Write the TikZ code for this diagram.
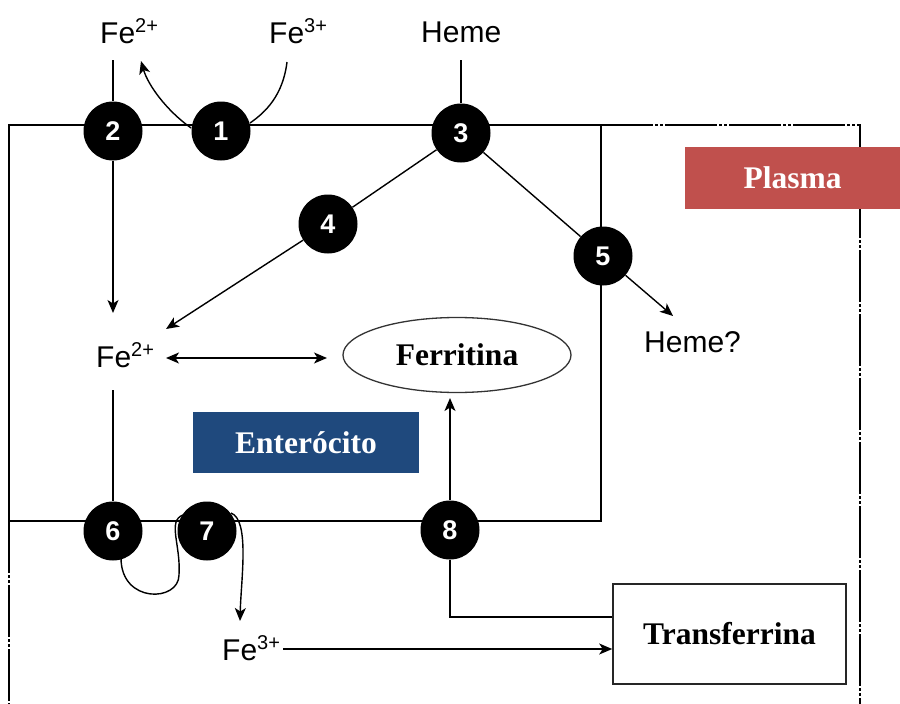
\documentclass[tikz,border=0pt]{standalone}
\usepackage{fontspec}
\setmainfont{Liberation Serif}
\newfontfamily\lab{Liberation Sans}
\usetikzlibrary{arrows.meta,shapes.geometric}
\definecolor{plasmared}{HTML}{C0504D}
\definecolor{enteroblue}{HTML}{1F497D}
\newcommand{\ionlab}[2]{#1\raisebox{11pt}{\fontsize{20}{20}\selectfont #2}}
\begin{document}
\begin{tikzpicture}[x=1pt,y=-1pt,
  memb/.style={line width=1.6pt},
  plasmaline/.style={line width=1.6pt,dash pattern=on 52pt off 2pt on 3pt off 2pt on 3pt off 2pt},
  circ/.style={circle,fill=black,minimum size=59pt,inner sep=0pt,text=white,font=\lab\bfseries\fontsize{27}{27}\selectfont},
  conn/.style={line width=1.4pt},
  arr/.style={line width=1.4pt,-{Stealth[length=13pt,width=11pt,inset=3.5pt]}},
  darr/.style={line width=1.4pt,{Stealth[length=13pt,width=11pt,inset=3.5pt]}-{Stealth[length=13pt,width=11pt,inset=3.5pt]}},
  ionstyle/.style={inner sep=0pt,anchor=base west,font=\lab\fontsize{30}{30}\selectfont},
  boldlab/.style={font=\bfseries\fontsize{31.5}{31.5}\selectfont}
]
\useasboundingbox (0,0) rectangle (900,704);

% membranes
\draw[memb] (9,521) -- (9,125) -- (601,125) -- (601,521) -- cycle;
\draw[plasmaline] (9,521) -- (9,704);
\draw[plasmaline] (601,125) -- (860,125) -- (860,704);

% labels
\node[ionstyle] (fe2top) at (100,43) {\ionlab{Fe}{2+}};
\node[ionstyle] (fe3top) at (269,43) {\ionlab{Fe}{3+}};
\node[ionstyle] (hemetop) at (421,42) {Heme};
\node[ionstyle] (fe2mid) at (96,367) {\ionlab{Fe}{2+}};
\node[ionstyle] (hemeq) at (644,352) {Heme?};
\node[ionstyle] (fe3bot) at (222,660) {\ionlab{Fe}{3+}};

% boxes
\node[boldlab,fill=plasmared,text=white,minimum width=215pt,minimum height=62pt,inner sep=0pt] (plasma) at (792.5,178) {Plasma};
\node[boldlab,fill=enteroblue,text=white,minimum width=226pt,minimum height=61pt,inner sep=0pt] (entero) at (306,442.5) {Enterócito};
\node[boldlab,ellipse,draw=black!80,line width=1.3pt,minimum width=228pt,minimum height=75pt,inner sep=0pt] (ferr) at (457,355) {Ferritina};
\node[boldlab,rectangle,draw=black!85,line width=1.6pt,minimum width=233pt,minimum height=100pt,inner sep=0pt] (trans) at (729.5,634) {Transferrina};

% circles
\node[circ] (c1) at (221,131) {1};
\node[circ] (c2) at (113,131) {2};
\node[circ] (c3) at (461,133) {3};
\node[circ] (c4) at (328,224) {4};
\node[circ] (c5) at (603,256) {5};
\node[circ] (c6) at (113,531) {6};
\node[circ] (c7) at (207,531) {7};
\node[circ] (c8) at (450,530) {8};

% free ends
\coordinate (p2top) at (113,60);
\coordinate (p2bot) at (113,313);
\coordinate (p1tip) at (141,61);
\coordinate (p1start) at (191,128);
\coordinate (p3start) at (287,62);
\coordinate (p3end) at (250,123);
\coordinate (phtop) at (461,60);
\coordinate (p4tip) at (166,329);
\coordinate (p5tip) at (673,316);
\coordinate (pdl) at (166,358);
\coordinate (pdr) at (327,358);
\coordinate (p6top) at (113,390);
\coordinate (p6a) at (121,558);
\coordinate (p7a) at (183,515);
\coordinate (p7b) at (231,513);
\coordinate (p7tip) at (240,621);
\coordinate (pfe3) at (283,649);
\coordinate (pcorner) at (450,617);
\coordinate (pferr) at (450,398);

% connectors
\draw[conn] (p2top) -- (c2);
\draw[arr] (c2) -- (p2bot);
\draw[arr] (p1start) .. controls (166,110) and (148,85) .. (p1tip);
\draw[conn] (p3start) .. controls (283,95) and (266,112) .. (p3end);
\draw[conn] (phtop) -- (c3);
\draw[conn] (c3) -- (c4);
\draw[arr] (c4) -- (p4tip);
\draw[conn] (c3) -- (c5);
\draw[arr] (c5) -- (p5tip);
\draw[darr] (pdl) -- (pdr);
\draw[conn] (p6top) -- (c6);
\draw[conn] (p6a) .. controls (121,604) and (179,602) .. (179,575) .. controls (181,545) and (167,521) .. (p7a);
\draw[arr] (p7b) .. controls (250,520) and (241,580) .. (p7tip);
\draw[arr] (pfe3) -- ([yshift=-15pt]trans.west);
\draw[conn] (c8) -- (pcorner) -- ([yshift=17pt]trans.west);
\draw[arr] (c8) -- (pferr);
\end{tikzpicture}
\end{document}
